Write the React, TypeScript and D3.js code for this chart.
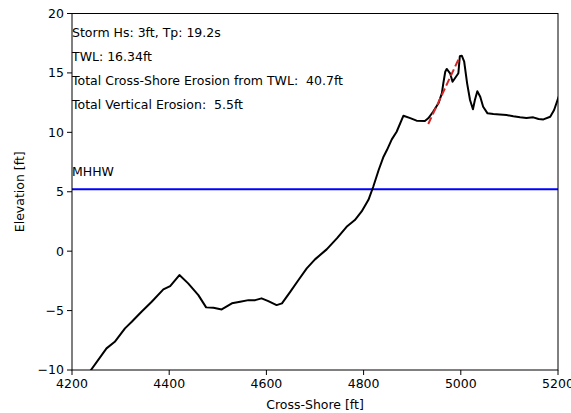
import React from "react";
import * as d3 from "d3";

const profileX = [4225, 4239, 4271, 4288, 4309, 4323, 4343, 4364, 4388, 4402, 4421, 4439, 4460, 4476, 4491, 4508, 4529, 4546, 4563, 4577, 4590, 4604, 4621, 4632, 4649, 4666, 4683, 4700, 4724, 4745, 4765, 4782, 4796, 4810, 4820, 4831, 4841, 4848, 4858, 4868, 4882, 4896, 4909, 4926, 4933, 4943, 4954, 4961, 4964, 4968, 4971, 4978, 4983, 4995, 4998, 5002, 5007, 5013, 5019, 5025, 5029, 5034, 5040, 5046, 5055, 5067, 5080, 5094, 5108, 5122, 5135, 5149, 5160, 5170, 5184, 5192, 5199, 5205];
const profileY = [-10.8, -10.0, -8.18, -7.63, -6.5, -5.94, -5.1, -4.26, -3.22, -2.94, -2.01, -2.71, -3.7, -4.73, -4.77, -4.9, -4.39, -4.26, -4.12, -4.12, -3.97, -4.2, -4.54, -4.39, -3.42, -2.43, -1.45, -0.69, 0.15, 1.08, 2.05, 2.62, 3.34, 4.32, 5.44, 6.83, 7.95, 8.51, 9.41, 10.05, 11.4, 11.2, 10.98, 10.95, 11.18, 11.73, 12.44, 13.28, 14.12, 15.1, 15.33, 14.97, 14.26, 14.97, 16.4, 16.45, 15.94, 14.12, 12.72, 11.94, 12.72, 13.45, 13.0, 12.15, 11.6, 11.54, 11.5, 11.46, 11.35, 11.26, 11.2, 11.26, 11.12, 11.09, 11.31, 11.88, 12.72, 13.4];

const twlX = [4933, 4996];
const twlY = [10.7, 16.2];

const mhhw = 5.2;

const xTicks = [4200, 4400, 4600, 4800, 5000, 5200];
const yTicks = [-10, -5, 0, 5, 10, 15, 20];

const annotations = [
  "Storm Hs: 3ft, Tp: 19.2s",
  "TWL: 16.34ft",
  "Total Cross-Shore Erosion from TWL:  40.7ft",
  "Total Vertical Erosion:  5.5ft",
];
const annotationY = [18, 16, 14, 12];

const W = 571;
const H = 413;
const left = 72;
const right = 558;
const top = 13.5;
const bottom = 370;
const font = "'DejaVu Sans', sans-serif";
const fs = 12.5;

export default function App() {
  const x = d3.scaleLinear().domain([4200, 5200]).range([left, right]);
  const y = d3.scaleLinear().domain([-10, 20]).range([bottom, top]);
  const pts: [number, number][] = profileX.map((v, i) => [v, profileY[i]]);
  const line = d3
    .line<[number, number]>()
    .x((d) => x(d[0]))
    .y((d) => y(d[1]))
    .curve(d3.curveLinear);
  const twl: [number, number][] = twlX.map((v, i) => [v, twlY[i]]);
  const fmt = (v: number) => (v < 0 ? "\u2212" + Math.abs(v) : String(v));

  return (
    <svg
      width={W}
      height={H}
      style={{ position: "absolute", left: 0, top: 0, background: "#fff" }}
      fontFamily={font}
    >
      <defs>
        <clipPath id="plotclip">
          <rect x={left} y={top} width={right - left} height={bottom - top} />
        </clipPath>
      </defs>
      <rect x={0} y={0} width={W} height={H} fill="#fff" />
      <g clipPath="url(#plotclip)">
        <line x1={left} x2={right} y1={y(mhhw)} y2={y(mhhw)} stroke="#0000ff" strokeWidth={2} />
        <path d={line(pts) || ""} fill="none" stroke="#000" strokeWidth={2} strokeLinejoin="round" />
        <path
          d={line(twl) || ""}
          fill="none"
          stroke="#d62728"
          strokeWidth={2}
          strokeDasharray="7.4,3.2"
        />
      </g>
      {annotations.map((t, i) => (
        <text
          key={t}
          x={x(4200)}
          y={y(annotationY[i])}
          fontSize={fs}
          fill="#000"
          style={{ whiteSpace: "pre" }}
        >
          {t}
        </text>
      ))}
      <text x={x(4200)} y={y(6.3)} fontSize={fs} fill="#000">
        MHHW
      </text>
      <rect
        x={left}
        y={top}
        width={right - left}
        height={bottom - top}
        fill="none"
        stroke="#000"
        strokeWidth={1}
      />
      {xTicks.map((t) => (
        <g key={"x" + t} transform={`translate(${x(t)},${bottom})`}>
          <line y1={0} y2={5} stroke="#000" strokeWidth={1} />
          <text y={18} textAnchor="middle" fontSize={fs} fill="#000">
            {fmt(t)}
          </text>
        </g>
      ))}
      {yTicks.map((t) => (
        <g key={"y" + t} transform={`translate(${left},${y(t)})`}>
          <line x1={0} x2={-5} stroke="#000" strokeWidth={1} />
          <text x={-8} dy="0.35em" textAnchor="end" fontSize={fs} fill="#000">
            {fmt(t)}
          </text>
        </g>
      ))}
      <text x={(left + right) / 2} y={409} textAnchor="middle" fontSize={fs} fill="#000">
        Cross-Shore [ft]
      </text>
      <text
        transform={`translate(24,${(top + bottom) / 2}) rotate(-90)`}
        textAnchor="middle"
        fontSize={fs}
        fill="#000"
      >
        Elevation [ft]
      </text>
    </svg>
  );
}
